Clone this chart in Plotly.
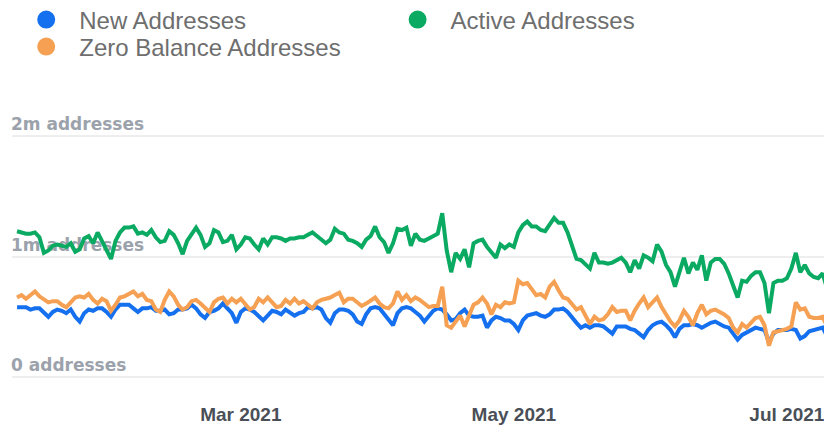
import pandas as pd
import plotly.graph_objects as go

start_date = "2021-01-10"
n_days = 182

new_addresses = [
0.58,0.58,0.58,0.56,0.57,0.57,0.53,0.50,0.54,0.56,0.55,0.53,0.56,0.50,0.46,0.53,0.56,0.55,0.57,0.57,
0.54,0.50,0.56,0.60,0.60,0.60,0.57,0.54,0.57,0.57,0.58,0.55,0.55,0.56,0.52,0.53,0.56,0.56,0.57,0.60,
0.57,0.52,0.49,0.54,0.55,0.57,0.61,0.57,0.53,0.45,0.54,0.57,0.56,0.54,0.50,0.47,0.51,0.55,0.54,0.52,
0.56,0.53,0.51,0.53,0.54,0.58,0.57,0.58,0.56,0.49,0.45,0.53,0.56,0.56,0.55,0.52,0.46,0.44,0.52,0.57,
0.58,0.57,0.52,0.47,0.43,0.53,0.57,0.58,0.57,0.54,0.51,0.46,0.51,0.55,0.57,0.56,0.52,0.47,0.48,0.53,
0.56,0.51,0.50,0.50,0.51,0.41,0.47,0.50,0.49,0.47,0.47,0.44,0.39,0.47,0.51,0.52,0.53,0.51,0.50,0.52,
0.56,0.56,0.57,0.54,0.49,0.45,0.41,0.43,0.41,0.43,0.43,0.42,0.39,0.36,0.42,0.42,0.42,0.40,0.39,0.36,
0.33,0.39,0.43,0.45,0.46,0.43,0.39,0.33,0.40,0.43,0.43,0.44,0.43,0.41,0.43,0.45,0.46,0.44,0.42,0.41,
0.36,0.31,0.35,0.37,0.39,0.41,0.40,0.39,0.29,0.36,0.39,0.39,0.39,0.40,0.39,0.32,0.34,0.38,0.39,0.40,
0.41,0.34]

zero_balance_addresses = [
0.66,0.68,0.65,0.68,0.71,0.67,0.64,0.62,0.63,0.63,0.60,0.58,0.62,0.66,0.67,0.66,0.69,0.64,0.61,0.65,
0.63,0.55,0.60,0.66,0.67,0.69,0.71,0.67,0.69,0.64,0.63,0.56,0.54,0.64,0.71,0.67,0.60,0.56,0.58,0.63,
0.64,0.61,0.57,0.54,0.62,0.65,0.66,0.61,0.65,0.62,0.65,0.61,0.56,0.58,0.65,0.62,0.66,0.62,0.58,0.59,
0.64,0.61,0.65,0.61,0.63,0.60,0.57,0.62,0.64,0.65,0.66,0.68,0.70,0.62,0.65,0.65,0.62,0.59,0.61,0.64,
0.66,0.61,0.58,0.57,0.61,0.71,0.64,0.68,0.63,0.66,0.64,0.61,0.58,0.59,0.59,0.75,0.43,0.41,0.46,0.51,
0.42,0.52,0.60,0.62,0.66,0.61,0.52,0.60,0.58,0.62,0.61,0.62,0.80,0.77,0.78,0.73,0.68,0.69,0.66,0.75,
0.79,0.72,0.66,0.65,0.60,0.56,0.58,0.51,0.44,0.50,0.47,0.48,0.52,0.58,0.54,0.55,0.55,0.47,0.55,0.61,
0.66,0.58,0.62,0.66,0.58,0.52,0.46,0.42,0.47,0.55,0.50,0.43,0.53,0.60,0.52,0.55,0.56,0.54,0.52,0.49,
0.41,0.37,0.44,0.41,0.45,0.49,0.50,0.43,0.26,0.37,0.38,0.39,0.40,0.42,0.62,0.56,0.57,0.50,0.49,0.49,
0.50,0.42]

active_addresses = [
1.21,1.20,1.19,1.19,1.20,1.16,1.03,1.05,1.09,1.10,1.09,1.08,1.11,1.04,1.06,1.15,1.17,1.11,1.20,1.13,
1.05,0.98,1.13,1.20,1.24,1.24,1.25,1.19,1.20,1.18,1.22,1.16,1.12,1.13,1.21,1.18,1.11,1.02,1.13,1.18,
1.24,1.18,1.08,1.11,1.22,1.20,1.12,1.13,1.18,1.06,1.10,1.16,1.15,1.10,1.06,1.15,1.10,1.16,1.16,1.15,
1.13,1.15,1.15,1.16,1.16,1.18,1.20,1.17,1.14,1.11,1.14,1.23,1.20,1.19,1.14,1.13,1.11,1.08,1.14,1.17,
1.25,1.16,1.12,1.03,1.11,1.23,1.22,1.24,1.09,1.19,1.14,1.13,1.15,1.17,1.19,1.36,1.05,0.87,1.03,0.98,
1.06,0.91,1.11,1.13,1.14,1.08,1.03,0.99,1.10,1.07,1.10,1.08,1.20,1.26,1.29,1.25,1.25,1.22,1.21,1.26,
1.32,1.28,1.28,1.20,1.10,0.98,0.97,0.93,0.90,1.03,0.95,0.95,0.94,0.95,0.97,0.99,0.95,0.87,0.97,0.90,
1.01,0.99,0.96,1.10,1.04,0.93,0.87,0.75,0.87,0.99,0.86,0.95,0.89,1.01,0.80,0.95,0.98,0.98,0.94,0.86,
0.76,0.66,0.80,0.79,0.84,0.87,0.87,0.78,0.53,0.78,0.80,0.80,0.82,0.90,1.03,0.87,0.93,0.86,0.83,0.82,
0.86,0.73]

series_names = ["New Addresses", "Active Addresses", "Zero Balance Addresses"]
series_colors = {"New Addresses": "#1570ef", "Active Addresses": "#0baa62", "Zero Balance Addresses": "#f5a052"}
y_tick_values = [0, 1_000_000, 2_000_000]
y_tick_labels = ["0 addresses", "1m addresses", "2m addresses"]

dates = pd.date_range(start_date, periods=n_days, freq="D")
M = 1_000_000
data = {
    "New Addresses": [v * M for v in new_addresses],
    "Zero Balance Addresses": [v * M for v in zero_balance_addresses],
    "Active Addresses": [v * M for v in active_addresses],
}

fig = go.Figure()
for name in ["New Addresses", "Zero Balance Addresses", "Active Addresses"]:
    fig.add_trace(go.Scatter(
        x=dates, y=data[name], mode="lines", name=name, showlegend=False,
        line=dict(color=series_colors[name], width=4), hoverinfo="x+y+name",
    ))

legend_ids = {"New Addresses": "legend", "Active Addresses": "legend2", "Zero Balance Addresses": "legend3"}
for name in series_names:
    fig.add_trace(go.Scatter(
        x=[None], y=[None], mode="markers", name=name, legend=legend_ids[name],
        marker=dict(size=16, color=series_colors[name], line=dict(width=2, color=series_colors[name])),
    ))

legend_style = dict(
    orientation="h", xanchor="left", yanchor="middle",
    font=dict(family="Liberation Sans, Arial", size=24, color="#6e6e6e"),
    itemwidth=56, bgcolor="rgba(0,0,0,0)",
)

fig.update_layout(
    width=824, height=424,
    margin=dict(l=4, r=0, t=92, b=37, autoexpand=False),
    paper_bgcolor="white", plot_bgcolor="white",
    showlegend=True,
    legend=dict(x=0.0015, y=1.2712, **legend_style),
    legend2=dict(x=0.4544, y=1.2712, **legend_style),
    legend3=dict(x=0.0015, y=1.1797, **legend_style),
    xaxis=dict(
        range=["2021-01-08 21:00", "2021-07-11 02:00"],
        tickformat="%b %Y", dtick="M2", tick0="2021-01-01",
        showgrid=False, zeroline=False, showline=False,
        ticks="outside", ticklen=2, tickcolor="rgba(0,0,0,0)",
        tickfont=dict(family="Liberation Sans, Arial", size=19, color="#4a4f57", weight="bold"),
    ),
    yaxis=dict(
        range=[-149000, 2299000],
        tickvals=y_tick_values, ticktext=y_tick_labels,
        ticklabelposition="inside top", layer="below traces",
        ticklabelstandoff=-4,
        showgrid=True, gridcolor="#eeeeee", gridwidth=2,
        zeroline=False, showline=False,
        tickfont=dict(family="DejaVu Sans", size=17, color="#9ba2ab", weight="bold"),
    ),
)

fig.write_html("out.html")
